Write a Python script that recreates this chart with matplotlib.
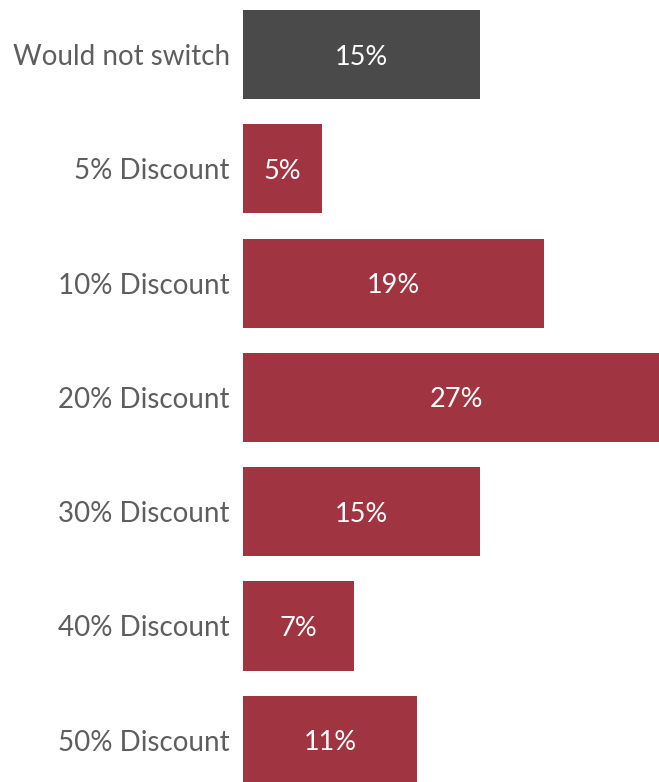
import matplotlib.pyplot as plt
import numpy as np

plt.rcParams['font.family'] = ['Lato', 'DejaVu Sans']

categories = ['Would not switch', '5% Discount', '10% Discount', '20% Discount',
              '30% Discount', '40% Discount', '50% Discount']
values = [15, 5, 19, 27, 15, 7, 11]
colors = ['#4a4a4a'] + ['#a03441'] * 6

fig = plt.figure(figsize=(6.59, 7.82), dpi=100)
ax = fig.add_axes([243 / 659, 0, 1 - 243 / 659, 1])

y = np.arange(len(categories))
bars = ax.barh(y, values, height=0.78, color=colors)

# value labels centred inside each bar
for b, v in zip(bars, values):
    ax.text(v / 2, b.get_y() + b.get_height() / 2, f'{v}%', color='white',
            ha='center', va='center_baseline', fontsize=19.5)

ax.set_xlim(0, 26.3)
ax.set_ylim(len(categories) - 1 + 0.365, -0.477)
ax.set_yticks(y)
ax.set_yticklabels(categories, fontsize=20, color='#5e5e5e')
ax.tick_params(axis='y', length=0, pad=9.5)
ax.set_xticks([])
for s in ax.spines.values():
    s.set_visible(False)

fig.savefig('out.png', dpi=100)
